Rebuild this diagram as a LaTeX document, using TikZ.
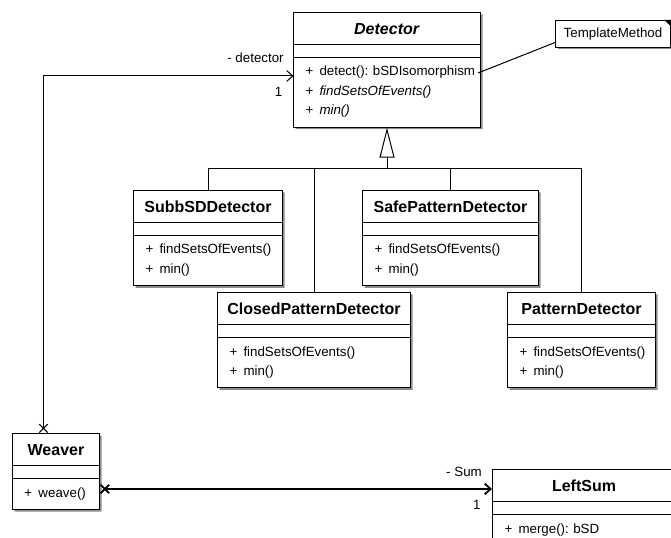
\documentclass[tikz,border=0pt]{standalone}
\usepackage{fontspec}
\setmainfont{Liberation Sans}
\usetikzlibrary{positioning,arrows.meta,shapes.multipart,shadows}

\newcommand{\ttl}[1]{\centering\fontsize{12}{12}\selectfont\bfseries\rule[-7.35pt]{0pt}{23.25pt}#1\par}
\newcommand{\op}[1]{\hspace*{9pt}\makebox[10.5pt][l]{+}#1\rule[-4.5pt]{0pt}{10pt}}
\newcommand{\ops}[1]{\rule{0pt}{13.5pt}#1\rule[-9pt]{0pt}{0pt}}
\frenchspacing

\begin{document}
\begin{tikzpicture}[
  x=0.75pt, y=-0.75pt,
  font=\fontsize{10}{14.5}\selectfont,
  cls/.style={rectangle split, rectangle split parts=3, draw, line width=0.75pt, fill=white,
    inner xsep=0pt, inner ysep=0pt, anchor=north west,
    general shadow={fill=black!45, shadow xshift=1.5pt, shadow yshift=-1.5pt}},
  notebox/.style={draw, line width=0.75pt, fill=white, inner sep=1pt, anchor=north west,
    minimum width=86.25pt, minimum height=20.25pt,
    general shadow={fill=black!45, shadow xshift=1.5pt, shadow yshift=-1.5pt}},
  sep/.style={line width=1.2pt},
  link/.style={line width=0.75pt},
  inh/.style={link, -{Triangle[open, length=22.5pt, width=11.25pt]}},
  assoc/.style={link, {Rays[n=4, length=9pt, width=9pt]}-{Straight Barb[length=4.5pt, width=8pt]}},
  lab/.style={inner sep=1pt},
]
\useasboundingbox (0,0) rectangle (671,538);
\clip (0,0) rectangle (671,538);
% Detector and its subclasses.
\node[cls, text width=140.25pt] (det) at (293,12) {\ttl{\textit{Detector}}\nodepart{two}\rule{0pt}{9pt}\nodepart{three}\ops{\op{detect(): bSDIsomorphism}\\\op{\textit{findSetsOfEvents()}}\\\op{\textit{min()}}}};
\node[cls, text width=111.75pt] (subb) at (133,190) {\ttl{SubbSDDetector}\nodepart{two}\rule{0pt}{9pt}\nodepart{three}\ops{\op{findSetsOfEvents()}\\\op{min()}}};
\node[cls, text width=132pt] (safe) at (362,190) {\ttl{SafePatternDetector}\nodepart{two}\rule{0pt}{9pt}\nodepart{three}\ops{\op{findSetsOfEvents()}\\\op{min()}}};
\node[cls, text width=144.75pt] (closed) at (217,292) {\ttl{ClosedPatternDetector}\nodepart{two}\rule{0pt}{9pt}\nodepart{three}\ops{\op{findSetsOfEvents()}\\\op{min()}}};
\node[cls, text width=111pt] (pat) at (507,292) {\ttl{PatternDetector}\nodepart{two}\rule{0pt}{9pt}\nodepart{three}\ops{\op{findSetsOfEvents()}\\\op{min()}}};
% Weaver and LeftSum.
\node[cls, text width=65.25pt] (weav) at (12,433) {\ttl{Weaver}\nodepart{two}\rule{0pt}{9pt}\nodepart{three}\ops{\op{weave()}}};
\node[cls, text width=137.25pt] (lsum) at (492,469) {\ttl{LeftSum}\nodepart{two}\rule{0pt}{9pt}\nodepart{three}\ops{\op{merge(): bSD}}};
\foreach \c in {det,subb,safe,closed,pat,weav,lsum} {
  \draw[sep] (\c.text split west) -- (\c.text split east);
  \draw[sep] (\c.two split west) -- (\c.two split east);
}
% Note.
\node[notebox] (note) at (555,20) {TemplateMethod};
\fill (note.north east) ++(-5pt,0) -- (note.north east) -- ++(0,-5pt) -- cycle;
\path (det.east |- det.three) ++(-2.25pt,2.25pt) coordinate (dtend);
\draw[link] (dtend) -- ([yshift=-6.4pt]note.west);
% Generalization.
\path (det.south) ++(0,-30.75pt) coordinate (gen);
\draw[inh] (gen) -- (det.south);
\draw[link] (subb.north) |- (gen);
\draw[link] (closed.north) |- (gen);
\draw[link] (safe.north) |- (gen);
\draw[link] (pat.north) |- (gen);
% Associations.
\draw[assoc] ([xshift=-9.4pt]weav.north) |- node[lab, pos=1, above left=8.5pt and 6pt] {- detector} node[lab, pos=1, below left=7pt and 7pt] {1} (det.three);
\coordinate (wlink) at ([yshift=-13.1pt]weav.east);
\draw[assoc, line width=1.3pt] (wlink) -- node[lab, pos=1, above left=7.5pt and 6pt] {- Sum} node[lab, pos=1, below left=7pt and 7pt] {1} (lsum.west |- wlink);
\end{tikzpicture}
\end{document}
